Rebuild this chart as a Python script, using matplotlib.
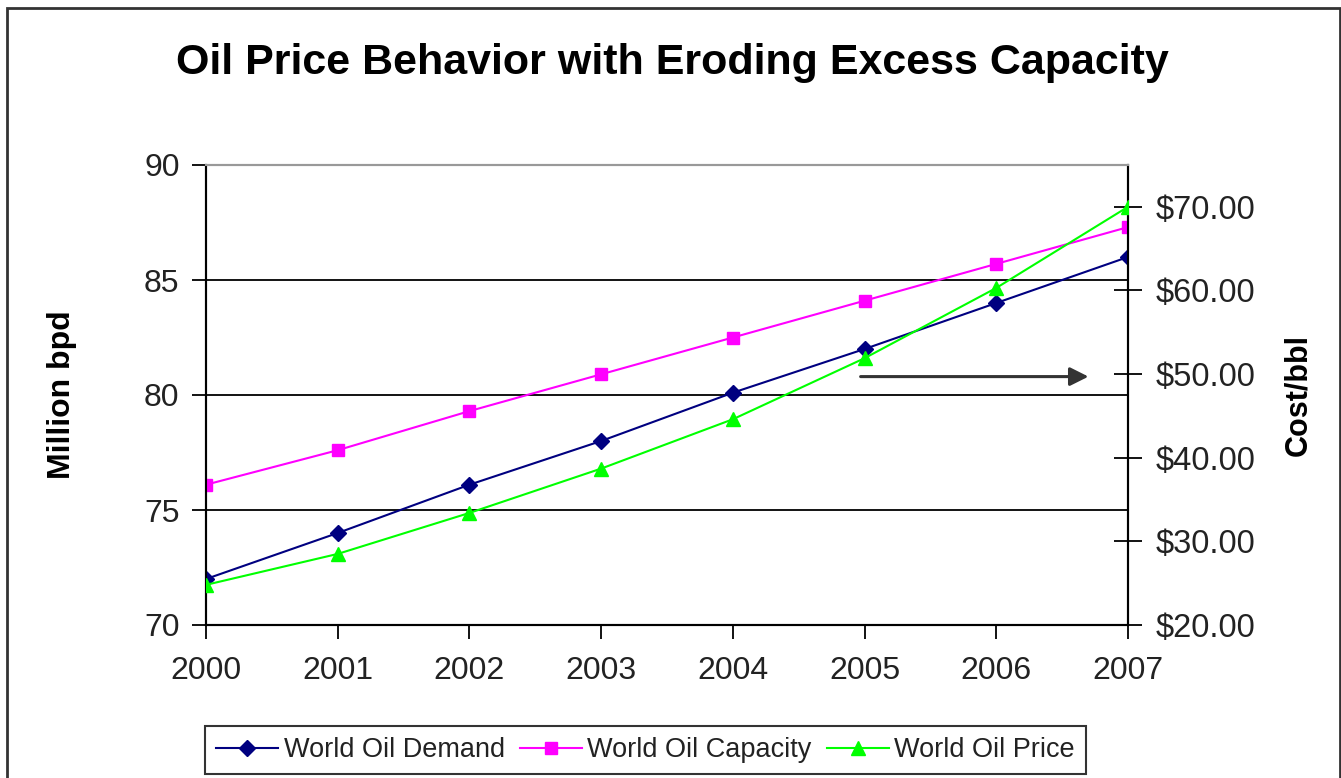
import matplotlib
matplotlib.use('Agg')
import matplotlib.pyplot as plt
from matplotlib.patches import Rectangle
from matplotlib.ticker import FuncFormatter

plt.rcParams['font.family'] = ['Liberation Sans', 'DejaVu Sans']

# dados
anos = [2000, 2001, 2002, 2003, 2004, 2005, 2006, 2007]
demanda = [72.0, 74.0, 76.1, 78.0, 80.1, 82.0, 84.0, 86.0]
capacidade = [76.1, 77.6, 79.3, 80.9, 82.5, 84.1, 85.7, 87.3]
preco = [24.8, 28.5, 33.4, 38.7, 44.6, 51.9, 60.3, 70.0]

fig = plt.figure(figsize=(13.41, 7.78), dpi=100)
ax = fig.add_axes([206/1341, 1-625/778, (1128-206)/1341, (625-165)/778])
ax2 = ax.twinx()

# moldura externa
fig.patches.append(Rectangle((7/1341, -0.05), (1340-7)/1341, 1.05 - 8/778,
                             transform=fig.transFigure, fill=False,
                             edgecolor='#333333', linewidth=2))

# linhas de grade
for v in [75, 80, 85]:
    ax.axhline(v, color='black', linewidth=1.3, zorder=1)

l1, = ax.plot(anos, demanda, color='#000080', marker='D', markersize=8,
              linewidth=1.5, label='World Oil Demand', zorder=3)
l2, = ax.plot(anos, capacidade, color='#FF00FF', marker='s', markersize=9,
              linewidth=1.5, label='World Oil Capacity', zorder=3)
l3, = ax2.plot(anos, preco, color='#00FF00', marker='^', markersize=10,
               linewidth=1.5, label='World Oil Price', zorder=3)

ax.set_xlim(2000, 2007)
ax.set_ylim(70, 90)
ax.set_yticks([70, 75, 80, 85, 90])
ax.set_xticks(anos)
ax2.set_ylim(20, 75)
ax2.set_yticks([20, 30, 40, 50, 60, 70])
ax2.yaxis.set_major_formatter(FuncFormatter(lambda x, p: '${:.2f}'.format(x)))

ax.tick_params(axis='y', direction='out', length=10, width=1.3, labelsize=23, pad=9,
               labelcolor='#222222')
ax.tick_params(axis='x', direction='out', length=10, width=1.3, labelsize=23, pad=12,
               labelcolor='#222222')
ax2.tick_params(axis='y', direction='inout', length=20, width=1.3, labelsize=23.5, pad=10,
                labelcolor='#222222')

for a in (ax, ax2):
    a.spines['left'].set_linewidth(1.5)
    a.spines['right'].set_linewidth(1.5)
    a.spines['bottom'].set_linewidth(1.5)
    a.spines['top'].set_color('#999999')
    a.spines['top'].set_linewidth(1.5)

ax.set_ylabel('Million bpd', fontsize=23, fontweight='bold', labelpad=48)
ax2.set_ylabel('Cost/bbl', fontsize=22, fontweight='bold', labelpad=20)

fig.text(672/1341, 1-63/778, 'Oil Price Behavior with Eroding Excess Capacity',
         ha='center', va='center', fontsize=31, fontweight='bold')

# seta
ax.annotate('', xy=(2006.7, 80.8), xytext=(2004.97, 80.8),
            arrowprops=dict(arrowstyle='-|>', color='#333333', lw=2.2,
                            mutation_scale=28, shrinkA=0, shrinkB=0), zorder=4)

leg = fig.legend(handles=[l1, l2, l3], loc='lower left',
                 bbox_to_anchor=(205/1341, 1-774/778), ncol=3, fontsize=19.5,
                 frameon=True, fancybox=False, handlelength=2.3, handletextpad=0.2,
                 columnspacing=0.55, borderpad=0.4, borderaxespad=0)
leg.get_frame().set_edgecolor('black')
leg.get_frame().set_linewidth(1.5)
for t in leg.get_texts():
    t.set_color('#222222')

fig.savefig('out.png', dpi=100)
